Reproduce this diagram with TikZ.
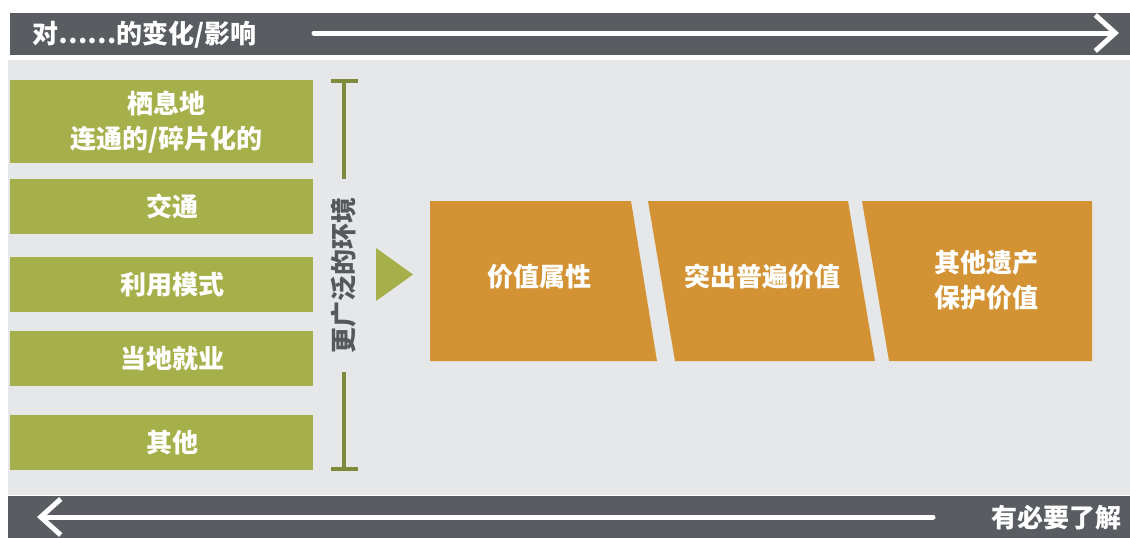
\documentclass[tikz,border=0pt]{standalone}
\usepackage{fontspec}
\setmainfont{Noto Sans CJK SC}
\usetikzlibrary{positioning, arrows.meta}

\definecolor{barGrey}{HTML}{595C61}
\definecolor{panelGrey}{HTML}{E6E7E8}
\definecolor{leafGreen}{HTML}{A6B04B}
\definecolor{oliveLine}{HTML}{7F8A3A}
\definecolor{valueOrange}{HTML}{D39335}
\definecolor{textGrey}{HTML}{55585C}

\begin{document}
\begin{tikzpicture}[x=1pt, y=-1pt,
    every node/.style={font=\bfseries\fontsize{26}{35}\selectfont, align=center, inner sep=0pt},
    factor/.style={fill=leafGreen, minimum width=303pt, anchor=north west},
    factortext/.style={text=white, xshift=11pt},
    valuetext/.style={text=white},
    flow/.style={white, line width=5pt, line cap=round,
        -{Straight Barb[length=20pt, width=36pt, line width=5pt]}},
    bracket/.style={oliveLine, line width=4pt}]

    \useasboundingbox (0,0) rectangle (1130,538);

    % bars and panel
    \fill[panelGrey] (8,60) rectangle (1130,495);
    \fill[barGrey] (10,13) rectangle (1130,55);
    \fill[barGrey] (8,496) rectangle (1130,538);

    \node[anchor=west, text=white] (fwdLabel) at (32,35) {对……的变化/影响};
    \node[anchor=east, text=white] (backLabel) at (1122,518) {有必要了解};

    \coordinate (fwdStart) at (314,33);
    \coordinate (fwdEnd) at (1119,33);
    \coordinate (backStart) at (933,517);
    \coordinate (backEnd) at (37,517);
    \draw[flow] (fwdStart) -- (fwdEnd);
    \draw[flow] (backStart) -- (backEnd);

    % factors
    \node[factor, minimum height=83pt] (habitat) at (10,80) {};
    \node[factor, minimum height=55pt] (traffic) at (10,179) {};
    \node[factor, minimum height=55pt] (landuse) at (10,257) {};
    \node[factor, minimum height=55pt] (jobs) at (10,331) {};
    \node[factor, minimum height=55pt] (others) at (10,415) {};

    \node[factortext, xshift=-6pt] (habitatText) at (habitat) {栖息地\\连通的/碎片化的};
    \node[factortext] (trafficText) at (traffic) {交通};
    \node[factortext] (landuseText) at (landuse) {利用模式};
    \node[factortext] (jobsText) at (jobs) {当地就业};
    \node[factortext] (othersText) at (others) {其他};

    % bracket
    \coordinate (capTop) at (344,81);
    \coordinate (capBottom) at (344,469);
    \draw[bracket] ([xshift=-13pt]capTop) -- ([xshift=14pt]capTop);
    \draw[bracket] (capTop) -- (344,179);
    \draw[bracket] (344,372) -- (capBottom);
    \draw[bracket] ([xshift=-13pt]capBottom) -- ([xshift=14pt]capBottom);
    \node[rotate=90, text=textGrey] (setting) at (344,275) {更广泛的环境};

    \fill[leafGreen] (376,248) -- (413,274.5) -- (376,301) -- cycle;

    % values
    \fill[valueOrange] (430,201) -- (631,201) -- (657,361) -- (430,361) -- cycle;
    \fill[valueOrange] (648,201) -- (848,201) -- (875,361) -- (675,361) -- cycle;
    \fill[valueOrange] (862,201) -- (1092,201) -- (1092,361) -- (889,361) -- cycle;

    \node[valuetext] (attributes) at (539,277) {价值属性};
    \node[valuetext] (ouv) at (762,277) {突出普遍价值};
    \node[valuetext] (otherValues) at (986,280) {其他遗产\\保护价值};

\end{tikzpicture}
\end{document}
